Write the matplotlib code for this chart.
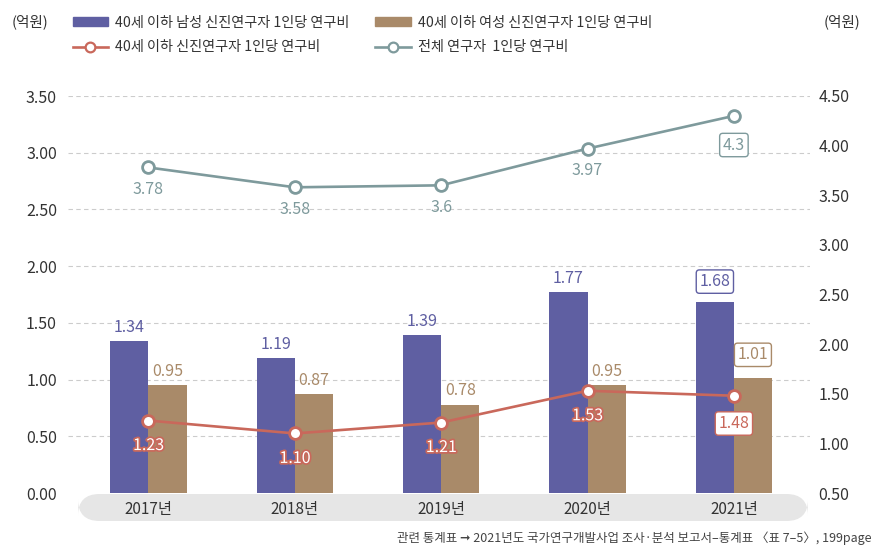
import matplotlib
matplotlib.use("Agg")
import matplotlib.pyplot as plt
import matplotlib.patheffects as pe
from matplotlib.patches import FancyBboxPatch, Patch
from matplotlib.lines import Line2D
import numpy as np

plt.rcParams['font.family'] = ['Noto Sans CJK KR', 'DejaVu Sans']

years = ['2017년', '2018년', '2019년', '2020년', '2021년']
male = [1.34, 1.19, 1.39, 1.77, 1.68]
female = [0.95, 0.87, 0.78, 0.95, 1.01]
young_all = [1.23, 1.10, 1.21, 1.53, 1.48]
total = [3.78, 3.58, 3.6, 3.97, 4.3]
left_ticks = [0.0, 0.5, 1.0, 1.5, 2.0, 2.5, 3.0, 3.5]
right_ticks = [0.5, 1.0, 1.5, 2.0, 2.5, 3.0, 3.5, 4.0, 4.5]

C_BLUE = '#5F5FA2'
C_BROWN = '#A98A69'
C_RED = '#C9685B'
C_GREY = '#7E9A9C'
C_TXT = '#333333'

fig = plt.figure(figsize=(8.95, 5.53), dpi=100)
ax = fig.add_axes([68/895, 1-493/553, (810-68)/895, (493-96)/553])
ax.set_facecolor('none')
ax2 = ax.twinx()

x = np.arange(len(years))
w = 0.26
ax.bar(x - w/2, male, w, color=C_BLUE, zorder=2)
ax.bar(x + w/2, female, w, color=C_BROWN, zorder=2)
ax.set_ylim(0, 3.5)
ax.set_xlim(-0.55, 4.52)
ax.set_yticks(left_ticks)
ax.set_yticklabels([f'{t:.2f}' for t in left_ticks], fontsize=11.5, color=C_TXT)
for t in left_ticks[1:]:
    ax.axhline(t, color='#CCCCCC', lw=0.8, ls=(0, (4, 3)), zorder=0)
ax.set_xticks(x)
ax.set_xticklabels(years, fontsize=11, color=C_TXT)
ax.tick_params(axis='both', length=0)
ax.tick_params(axis='x', pad=6)
ax.tick_params(axis='y', pad=8)
for s in ax.spines.values():
    s.set_visible(False)

ax2.set_ylim(0.5, 4.5)
ax2.set_yticks(right_ticks)
ax2.set_yticklabels([f'{t:.2f}' for t in right_ticks], fontsize=11.5, color=C_TXT)
ax2.tick_params(axis='y', length=0, pad=6)
for s in ax2.spines.values():
    s.set_visible(False)

ax2.plot(x, young_all, color=C_RED, lw=1.9, marker='o', ms=8.5, mfc='white',
         mec=C_RED, mew=2, zorder=4)
ax2.plot(x, total, color=C_GREY, lw=1.9, marker='o', ms=8.5, mfc='white',
         mec=C_GREY, mew=2, zorder=4)

box = 'round,pad=0.2,rounding_size=0.2'
last = len(years) - 1
for i in range(len(years)):
    boxed = (i == last)
    kw = dict(ha='center', va='center', fontsize=11.5, color=C_BLUE, zorder=6,
              textcoords='offset points')
    if boxed:
        ax.annotate(f'{male[i]:.2f}', (x[i] - w/2, male[i]), xytext=(0, 15),
                    bbox=dict(boxstyle=box, fc='white', ec=C_BLUE, lw=1), **kw)
    else:
        ax.annotate(f'{male[i]:.2f}', (x[i] - w/2, male[i]), xytext=(0, 10), **kw)
    kw = dict(ha='center', va='center', fontsize=11.5, color=C_BROWN, zorder=6,
              textcoords='offset points')
    if boxed:
        ax.annotate(f'{female[i]:.2f}', (x[i] + w/2, female[i]), xytext=(0, 17),
                    bbox=dict(boxstyle=box, fc='white', ec=C_BROWN, lw=1), **kw)
    else:
        ax.annotate(f'{female[i]:.2f}', (x[i] + w/2, female[i]), xytext=(0, 10), **kw)
    if boxed:
        ax2.annotate(f'{young_all[i]:.2f}', (x[i], young_all[i]), xytext=(0, -20),
                     textcoords='offset points', ha='center', va='center', fontsize=11.5,
                     color=C_RED, zorder=7,
                     bbox=dict(boxstyle=box, fc='white', ec=C_RED, lw=1))
    else:
        ax2.annotate(f'{young_all[i]:.2f}', (x[i], young_all[i]), xytext=(0, -18),
                     textcoords='offset points', ha='center', va='center', fontsize=11.5,
                     color='white', zorder=7,
                     path_effects=[pe.withStroke(linewidth=2.5, foreground=C_RED)])
    lbl = f'{total[i]:g}'
    if boxed:
        ax2.annotate(lbl, (x[i], total[i]), xytext=(0, -21),
                     textcoords='offset points', ha='center', va='center', fontsize=11.5,
                     color=C_GREY, zorder=7,
                     bbox=dict(boxstyle=box, fc='white', ec=C_GREY, lw=1))
    else:
        ax2.annotate(lbl, (x[i], total[i]), xytext=(0, -16),
                     textcoords='offset points', ha='center', va='center', fontsize=11.5,
                     color=C_GREY, zorder=7)

# grey band behind year labels (pill shape)
band = FancyBboxPatch((78/895, 1-521/553), (808-78)/895, 27/553,
                      boxstyle='round,pad=0,rounding_size=0.024',
                      transform=fig.transFigure, fc='#E6E6E6', ec='none', zorder=-5,
                      mutation_aspect=895/553)
fig.patches.append(band)

# legend
handles = [
    Patch(color=C_BLUE),
    Line2D([], [], color=C_RED, lw=1.9, marker='o', ms=7, mfc='white', mec=C_RED, mew=1.6),
    Patch(color=C_BROWN),
    Line2D([], [], color=C_GREY, lw=1.9, marker='o', ms=7, mfc='white', mec=C_GREY, mew=1.6),
]
labels = ['40세 이하 남성 신진연구자 1인당 연구비', '40세 이하 신진연구자 1인당 연구비',
          '40세 이하 여성 신진연구자 1인당 연구비', '전체 연구자  1인당 연구비']
fig.legend(handles, labels, ncol=2, loc='upper left', bbox_to_anchor=(60/895, 1-3/553),
           frameon=False, fontsize=10.2, handlelength=2.5, handleheight=0.55,
           columnspacing=1.8, labelspacing=0.75, handletextpad=0.5,
           labelcolor=C_TXT)

fig.text(12/895, 1-22/553, '(억원)', fontsize=10.5, color=C_TXT, va='center', ha='left')
fig.text(860/895, 1-22/553, '(억원)', fontsize=10.5, color=C_TXT, va='center', ha='right')

fig.text(872/895, 1-538/553,
         '관련 통계표 ➞ 2021년도 국가연구개발사업 조사·분석 보고서–통계표 〈표 7–5〉, 199page',
         fontsize=9, color='#444444', ha='right', va='center', style='italic')

fig.savefig('out.png', dpi=100)
